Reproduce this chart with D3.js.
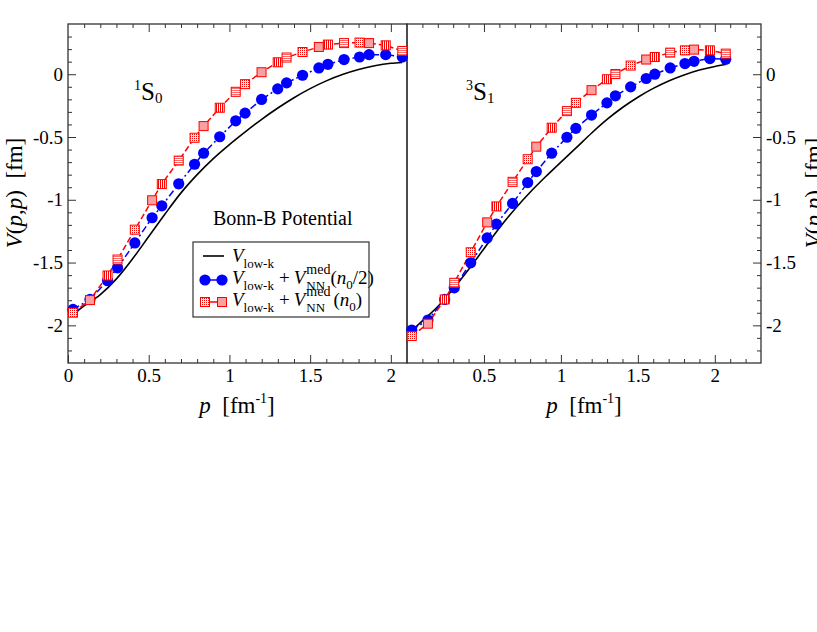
<!DOCTYPE html>
<html>
<head>
<meta charset="utf-8">
<script src="https://cdn.jsdelivr.net/npm/d3@7"></script>
<style>
  body { margin: 0; background: #fff; }
  svg { display: block; }
</style>
</head>
<body>
<svg id="chart" width="817" height="632"></svg>
<script>
// momentum grid of the gauss points (same for both channels)
const kGrid = [0.031, 0.136, 0.245, 0.307, 0.414, 0.521, 0.581, 0.686, 0.784, 0.840, 0.940, 1.039,
               1.097, 1.199, 1.299, 1.354, 1.453, 1.554, 1.610, 1.710, 1.806, 1.865, 1.968, 2.071];

// 1S0 channel
const s0Half = [-1.873, -1.794, -1.645, -1.542, -1.344, -1.143, -1.048, -0.873, -0.717, -0.629, -0.498, -0.371,
                -0.310, -0.201, -0.117, -0.069, -0.008, 0.050, 0.079, 0.117, 0.137, 0.156, 0.156, 0.137];
const s0Full = [-1.899, -1.799, -1.603, -1.476, -1.238, -1.004, -0.875, -0.688, -0.506, -0.413, -0.267, -0.140,
                -0.079, 0.016, 0.095, 0.133, 0.177, 0.217, 0.236, 0.248, 0.252, 0.248, 0.230, 0.185];

// 3S1 channel
const s1Half = [-2.037, -1.958, -1.794, -1.701, -1.502, -1.304, -1.193, -1.029, -0.863, -0.775, -0.629, -0.502,
                -0.431, -0.325, -0.228, -0.172, -0.101, -0.034, 0.000, 0.050, 0.085, 0.103, 0.125, 0.119];
const s1Full = [-2.085, -1.987, -1.794, -1.661, -1.418, -1.180, -1.053, -0.857, -0.677, -0.577, -0.426, -0.294,
                -0.228, -0.127, -0.040, 0.002, 0.069, 0.117, 0.137, 0.172, 0.190, 0.196, 0.190, 0.164];

// V_low-k alone (solid curve)
const curveP = [0.02, 0.1, 0.2, 0.3, 0.4, 0.5, 0.6, 0.7, 0.8, 0.9, 1.0, 1.1,
                1.2, 1.3, 1.4, 1.5, 1.6, 1.7, 1.8, 1.9, 2.0, 2.07];
const s0Vlowk = [-1.925, -1.845, -1.755, -1.63, -1.47, -1.293, -1.115, -0.945, -0.80, -0.672, -0.56, -0.457,
                 -0.359, -0.269, -0.187, -0.115, -0.053, -0.003, 0.037, 0.067, 0.087, 0.094];
const s1Vlowk = [-2.055, -1.965, -1.85, -1.71, -1.555, -1.39, -1.225, -1.075, -0.94, -0.817, -0.70, -0.585,
                 -0.468, -0.36, -0.265, -0.183, -0.113, -0.054, -0.006, 0.033, 0.062, 0.077];

// ticks
const yTicks = [0, -0.5, -1, -1.5, -2];
const yLabels = ["0", "-0.5", "-1", "-1.5", "-2"];
const xTicksLeft = [0, 0.5, 1, 1.5, 2];
const xTicksRight = [0.5, 1, 1.5, 2];
const xLabels = {0: "0", 0.5: "0.5", 1: "1", 1.5: "1.5", 2: "2"};

const serif = "'Liberation Serif', 'Times New Roman', serif";
const svg = d3.select("#chart");
svg.append("rect").attr("width", 817).attr("height", 632).attr("fill", "#fff");

// pattern fills for the square markers (xmgrace-like)
const defs = svg.append("defs");
function pattern(id, build) {
  const p = defs.append("pattern").attr("id", id).attr("patternUnits", "userSpaceOnUse")
    .attr("width", 2).attr("height", 2);
  p.append("rect").attr("width", 2).attr("height", 2).attr("fill", "#fff");
  build(p);
}
pattern("patDots", p => p.append("rect").attr("width", 1).attr("height", 1).attr("fill", "#f00"));
pattern("patVert", p => p.append("rect").attr("width", 1).attr("height", 2).attr("fill", "#f00"));
pattern("patHor", p => p.append("rect").attr("width", 2).attr("height", 1).attr("fill", "#f66"));
pattern("patLight", p => { p.append("rect").attr("width", 2).attr("height", 2).attr("fill", "#f9a0a0"); });
const patList = ["url(#patDots)", "url(#patLight)", "url(#patVert)", "url(#patHor)"];

const y = d3.scaleLinear().domain([-2.3, 0.4]).range([363, 24]);
const xL = d3.scaleLinear().domain([0, 2.1]).range([68, 407]);
const xR = d3.scaleLinear().domain([0, 2.3]).range([407, 761]);

function minors(lo, hi) {
  const out = [];
  for (let i = Math.ceil(lo * 10); i <= Math.floor(hi * 10); i++) if (i % 5 !== 0) out.push(i / 10);
  return out;
}

function styleAxis(g) {
  g.select(".domain").remove();
  g.selectAll("line").attr("stroke", "#333").attr("stroke-width", 1);
  g.selectAll("text").attr("font-family", serif).attr("font-size", 19).attr("fill", "#000");
}

function panel(x, xTicks, ySide) {
  const [x0, x1] = x.range();
  // bottom + top
  svg.append("g").attr("transform", "translate(0,363)")
    .call(d3.axisBottom(x).tickValues(xTicks).tickSize(-8).tickPadding(6).tickFormat(d => xLabels[d]))
    .call(styleAxis);
  svg.append("g").attr("transform", "translate(0,363)")
    .call(d3.axisBottom(x).tickValues(minors(x.domain()[0] + 0.01, x.domain()[1] - 0.01)).tickSize(-4).tickFormat(""))
    .call(styleAxis);
  svg.append("g").attr("transform", "translate(0,24)")
    .call(d3.axisTop(x).tickValues(xTicks.filter(d => d > 0)).tickSize(-8).tickFormat(""))
    .call(styleAxis);
  svg.append("g").attr("transform", "translate(0,24)")
    .call(d3.axisTop(x).tickValues(minors(x.domain()[0] + 0.01, x.domain()[1] - 0.01)).tickSize(-4).tickFormat(""))
    .call(styleAxis);
  // vertical axis
  const yMin = minors(-2.29, 0.39);
  if (ySide === "left") {
    svg.append("g").attr("transform", `translate(${x0},0)`)
      .call(d3.axisLeft(y).tickValues(yTicks).tickSize(-8).tickPadding(5).tickFormat((d, i) => yLabels[i]))
      .call(styleAxis);
    svg.append("g").attr("transform", `translate(${x0},0)`)
      .call(d3.axisLeft(y).tickValues(yMin).tickSize(-4).tickFormat(""))
      .call(styleAxis);
  } else {
    svg.append("g").attr("transform", `translate(${x1},0)`)
      .call(d3.axisRight(y).tickValues(yTicks).tickSize(-8).tickPadding(5).tickFormat((d, i) => yLabels[i]))
      .call(styleAxis);
    svg.append("g").attr("transform", `translate(${x1},0)`)
      .call(d3.axisRight(y).tickValues(yMin).tickSize(-4).tickFormat(""))
      .call(styleAxis);
  }
  svg.append("rect").attr("x", x0).attr("y", 24).attr("width", x1 - x0).attr("height", 339)
    .attr("fill", "none").attr("stroke", "#333").attr("stroke-width", 1.3);
}

function drawSeries(x, vlowk, half, full) {
  const smooth = d3.line().x(d => x(d[0])).y(d => y(d[1])).curve(d3.curveMonotoneX);
  svg.append("path").datum(d3.zip(curveP, vlowk))
    .attr("d", smooth).attr("fill", "none").attr("stroke", "#000").attr("stroke-width", 1.6);
  const lin = d3.line().x(d => x(d[0])).y(d => y(d[1]));
  svg.append("path").datum(d3.zip(kGrid, half))
    .attr("d", lin).attr("fill", "none").attr("stroke", "#0000ff").attr("stroke-width", 1.5)
    .attr("stroke-dasharray", "7,3,2,3");
  svg.append("path").datum(d3.zip(kGrid, full))
    .attr("d", lin).attr("fill", "none").attr("stroke", "#ff0000").attr("stroke-width", 1.5)
    .attr("stroke-dasharray", "6,3");
  svg.append("g").selectAll("circle").data(d3.zip(kGrid, half)).join("circle")
    .attr("cx", d => x(d[0])).attr("cy", d => y(d[1])).attr("r", 5.6).attr("fill", "#0000ff");
  svg.append("g").selectAll("rect").data(d3.zip(kGrid, full)).join("rect")
    .attr("x", d => x(d[0]) - 4.5).attr("y", d => y(d[1]) - 4.5).attr("width", 9).attr("height", 9)
    .attr("fill", (d, i) => patList[i % patList.length]).attr("stroke", "#ff0000").attr("stroke-width", 1);
}

panel(xL, xTicksLeft, "left");
panel(xR, xTicksRight, "right");
drawSeries(xL, s0Vlowk, s0Half, s0Full);
drawSeries(xR, s1Vlowk, s1Half, s1Full);

// axis titles
function yTitle(xPos) {
  const t = svg.append("text").attr("transform", `translate(${xPos},193) rotate(-90)`)
    .attr("text-anchor", "middle").attr("font-family", serif).attr("font-size", 23)
    .attr("xml:space", "preserve").style("white-space", "pre");
  t.append("tspan").attr("font-style", "italic").text("V");
  t.append("tspan").text("(");
  t.append("tspan").attr("font-style", "italic").text("p");
  t.append("tspan").text(",");
  t.append("tspan").attr("font-style", "italic").text("p");
  t.append("tspan").text(")  [fm]");
}
yTitle(22);
yTitle(821);

function xTitle(xc) {
  const t = svg.append("text").attr("x", xc).attr("y", 413)
    .attr("text-anchor", "middle").attr("font-family", serif).attr("font-size", 23)
    .attr("xml:space", "preserve").style("white-space", "pre");
  t.append("tspan").attr("font-style", "italic").text("p");
  t.append("tspan").text("  [fm");
  t.append("tspan").attr("font-size", 14).attr("dy", -10).text("-1");
  t.append("tspan").attr("dy", 10).text("]");
}
xTitle(237);
xTitle(584);

// channel labels
function channel(x0, sup, sub) {
  const t = svg.append("text").attr("x", x0).attr("y", 100).attr("font-family", serif);
  t.append("tspan").attr("font-size", 14).attr("dy", -10).text(sup);
  t.append("tspan").attr("font-size", 25).attr("dy", 10).text("S");
  t.append("tspan").attr("font-size", 15).attr("dy", 3).text(sub);
}
channel(134, "1", "0");
channel(466, "3", "1");

svg.append("text").attr("x", 213).attr("y", 225).attr("font-family", serif).attr("font-size", 20)
  .text("Bonn-B Potential");

// legend
const leg = svg.append("g");
leg.append("rect").attr("x", 193).attr("y", 242).attr("width", 176).attr("height", 75)
  .attr("fill", "#fff").attr("stroke", "#333").attr("stroke-width", 1.2);

function rich(x0, y0, parts) {
  let cx = x0, stackStart = x0, stackW = 0;
  parts.forEach(p => {
    if (p.gap) { cx += p.gap; return; }
    const t = leg.append("text").attr("x", p.stack ? stackStart : cx).attr("y", y0 + (p.dy || 0))
      .attr("font-family", serif).attr("font-size", p.fs || 19)
      .attr("font-style", p.it ? "italic" : "normal").text(p.t);
    const w = t.node().getComputedTextLength();
    if (p.stack) {
      cx = stackStart + Math.max(stackW, w);
    } else {
      stackStart = cx; stackW = w; cx += w;
    }
  });
}
const vlk = [{t: "V", it: true}, {t: "low-k", fs: 13, dy: 6}];
const plusMed = [{gap: 5}, {t: "+"}, {gap: 4}, {t: "V", it: true}, {gap: 1}, {t: "med", fs: 14, dy: -10}, {t: "NN", fs: 13, dy: 6, stack: true}];
rich(232, 262, vlk);
rich(232, 284, vlk.concat(plusMed, [{t: "("}, {t: "n", it: true}, {t: "0", fs: 13, dy: 5}, {t: "/2)"}]));
rich(232, 306, vlk.concat(plusMed, [{gap: 3}, {t: "("}, {t: "n", it: true}, {t: "0", fs: 13, dy: 5}, {t: ")"}]));

leg.append("line").attr("x1", 203).attr("x2", 224).attr("y1", 256).attr("y2", 256)
  .attr("stroke", "#000").attr("stroke-width", 1.6);
leg.append("line").attr("x1", 205).attr("x2", 222).attr("y1", 280).attr("y2", 280)
  .attr("stroke", "#0000ff").attr("stroke-width", 1.5);
leg.selectAll("circle.lg").data([205, 222]).join("circle").attr("class", "lg")
  .attr("cx", d => d).attr("cy", 280).attr("r", 5.6).attr("fill", "#0000ff");
leg.append("line").attr("x1", 205).attr("x2", 222).attr("y1", 302).attr("y2", 302)
  .attr("stroke", "#ff0000").attr("stroke-width", 1.5);
leg.selectAll("rect.lg").data([205, 222]).join("rect").attr("class", "lg")
  .attr("x", d => d - 4.5).attr("y", 297.5).attr("width", 9).attr("height", 9)
  .attr("fill", (d, i) => patList[i]).attr("stroke", "#ff0000").attr("stroke-width", 1);
</script>
</body>
</html>
